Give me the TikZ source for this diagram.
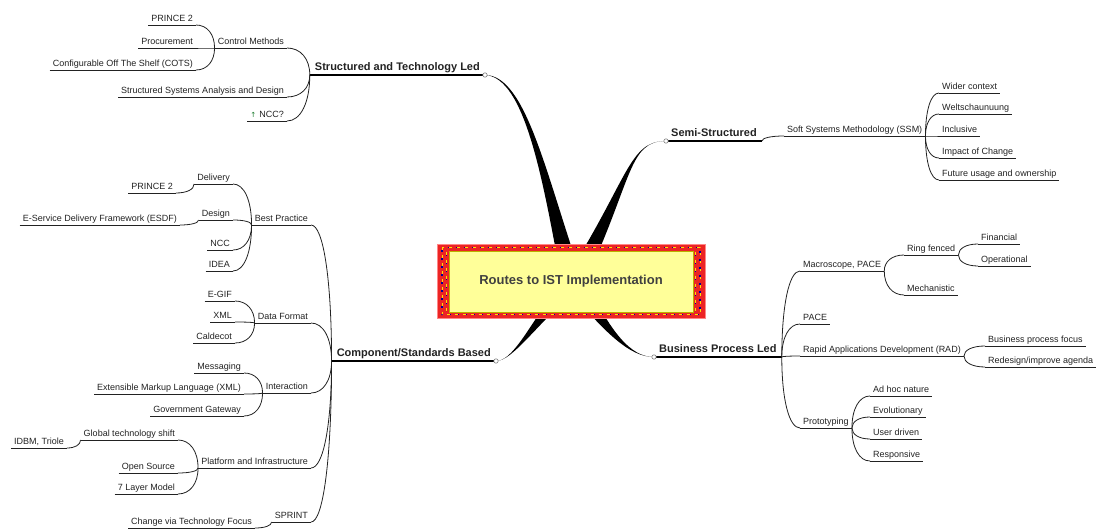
\documentclass[tikz,border=0pt]{standalone}
\usepackage{fontspec}
\setmainfont{Liberation Sans}
\newfontfamily\symfont{DejaVu Sans}
\usetikzlibrary{calc}
\definecolor{boxred}{RGB}{236,36,36}
\definecolor{boxyellow}{RGB}{255,255,153}
\definecolor{ink}{RGB}{34,34,34}
\definecolor{centerink}{RGB}{64,64,64}
\definecolor{icongreen}{RGB}{20,120,40}
\newcommand\lnk[2]{\draw[conn] (#1) .. controls ($(#1)!0.6!(#1 |- #2)$) and ($(#2)!0.6!(#1 |- #2)$) .. (#2);}
\begin{document}
\begin{tikzpicture}[x=1pt,y=-1pt,
  topic/.style={font=\fontsize{9}{10}\selectfont, text=ink, inner xsep=3pt, inner ysep=1pt, text height=7pt, text depth=2pt},
  lt/.style={topic, anchor=south east},
  rt/.style={topic, anchor=south west},
  rootlbl/.style={font=\bfseries\fontsize{11}{12}\selectfont, text=ink, inner xsep=5pt, inner ysep=1.5pt, text height=8.5pt, text depth=2.5pt},
  conn/.style={draw=ink, line width=0.8pt},
  uline/.style={draw=ink, line width=0.9pt},
  rootline/.style={draw=black, line width=1.4pt},
  knob/.style={draw=gray, fill=white, line width=0.6pt},
  taper/.style={fill=black},
]
\useasboundingbox (0,0) rectangle (1100,529);

% ---------- main topics ----------
\node[rootlbl, anchor=south east] (ST) at (485,75) {Structured and Technology Led};
\node[rootlbl, anchor=south west] (SS) at (666,141) {Semi-Structured};
\node[rootlbl, anchor=south east] (CS) at (496,361) {Component/Standards Based};
\node[rootlbl, anchor=south west] (BP) at (654,357) {Business Process Led};

% ---------- tapered main branches ----------
\fill[taper] (ST.south east) .. controls (525,77) and (543,180) .. (562,284) -- (584,284) .. controls (547,180) and (527,75) .. (ST.south east) -- cycle;
\fill[taper] (SS.south west) .. controls (628,141) and (629,180) .. (562,284) -- (584,284) .. controls (633,180) and (628,141) .. (SS.south west) -- cycle;
\fill[taper] (CS.south east) .. controls (512,361) and (527,331) .. (561,280) -- (585,280) .. controls (533,329) and (512,361) .. (CS.south east) -- cycle;
\fill[taper] (BP.south west) .. controls (630,357) and (605,334) .. (561,280) -- (585,280) .. controls (611,332) and (630,357) .. (BP.south west) -- cycle;

% ---------- central topic ----------
\fill[boxred] (437,244) rectangle (705,318);
\draw[pink!70!red, line width=0.6pt] (437,244) rectangle (705,318);
\draw[yellow!85!orange, line width=1pt, dash pattern=on 3pt off 5pt] (442,247.5) rectangle (700,314.5);
\draw[blue!60!black, line width=1.3pt, dash pattern=on 1.3pt off 6.7pt, dash phase=5pt] (442,247.5) rectangle (700,314.5);
\draw[yellow!85!orange, line width=1pt, dash pattern=on 3pt off 5pt] (446.5,252) -- (446.5,311) (695.5,252) -- (695.5,311);
\draw[blue!60!black, line width=1.3pt, dash pattern=on 1.3pt off 6.7pt, dash phase=5pt] (446.5,252) -- (446.5,311) (695.5,252) -- (695.5,311);
\node[draw=olive!60!yellow, line width=0.6pt, fill=boxyellow, minimum width=244pt, minimum height=61pt, inner sep=0pt,
      font=\bfseries\fontsize{13}{15}\selectfont, text=centerink] (root) at (571,281.5) {Routes to IST Implementation};

% ---------- Structured and Technology Led ----------
\node[lt] (CM) at (287,48) {Control Methods};
\node[lt] (SSAD) at (287,97) {Structured Systems Analysis and Design};
\node[lt] (NCCq) at (287,121) {{\symfont\fontsize{7}{8}\selectfont\color{icongreen}↑}\,\,NCC?};
\node[lt] (P2a) at (196,25) {PRINCE 2};
\node[lt] (Proc) at (196,48) {Procurement};
\node[lt] (COTS) at (196,70) {Configurable Off The Shelf (COTS)};

% ---------- Semi-Structured ----------
\node[rt] (SSM) at (784,136) {Soft Systems Methodology (SSM)};
\node[rt] (Wider) at (939,93) {Wider context};
\node[rt] (Welt) at (939,114) {Weltschaunuung};
\node[rt] (Incl) at (939,136) {Inclusive};
\node[rt] (Impact) at (939,158) {Impact of Change};
\node[rt] (Future) at (939,180) {Future usage and ownership};

% ---------- Business Process Led ----------
\node[rt] (Macro) at (800,271) {Macroscope, PACE};
\node[rt] (PACE) at (800,324) {PACE};
\node[rt] (RAD) at (800,356) {Rapid Applications Development (RAD)};
\node[rt] (Proto) at (800,428) {Prototyping};
\node[rt] (Ring) at (904,255) {Ring fenced};
\node[rt] (Mech) at (904,295) {Mechanistic};
\node[rt] (Fin) at (978,244) {Financial};
\node[rt] (Oper) at (978,266) {Operational};
\node[rt] (BPF) at (985,346) {Business process focus};
\node[rt] (Redesign) at (985,367) {Redesign/improve agenda};
\node[rt] (Adhoc) at (870,396) {Ad hoc nature};
\node[rt] (Evol) at (870,417) {Evolutionary};
\node[rt] (User) at (870,439) {User driven};
\node[rt] (Resp) at (870,461) {Responsive};

% ---------- Component/Standards Based ----------
\node[lt] (BestP) at (311,225) {Best Practice};
\node[lt] (DataF) at (311,323) {Data Format};
\node[lt] (Inter) at (311,393) {Interaction};
\node[lt] (Platf) at (311,468) {Platform and Infrastructure};
\node[lt] (Sprint) at (311,522) {SPRINT};
\node[lt] (Deliv) at (233,184) {Delivery};
\node[lt] (Design) at (233,220) {Design};
\node[lt] (NCC) at (233,250) {NCC};
\node[lt] (IDEA) at (233,271) {IDEA};
\node[lt] (P2b) at (176,193) {PRINCE 2};
\node[lt] (ESDF) at (180,225) {E-Service Delivery Framework (ESDF)};
\node[lt] (EGIF) at (235,301) {E-GIF};
\node[lt] (XML) at (235,322) {XML};
\node[lt] (Cald) at (235,343) {Caldecot};
\node[lt] (Msg) at (244,373) {Messaging};
\node[lt] (XMLlong) at (244,394) {Extensible Markup Language (XML)};
\node[lt] (GovG) at (244,416) {Government Gateway};
\node[lt] (Global) at (178,440) {Global technology shift};
\node[lt] (OpenS) at (178,473) {Open Source};
\node[lt] (Layer7) at (178,494) {7 Layer Model};
\node[lt] (IDBM) at (67,448) {IDBM, Triole};
\node[lt] (Change) at (255,528) {Change via Technology Focus};

% ---------- underlines ----------
\foreach \n in {CM,SSAD,NCCq,P2a,Proc,COTS,SSM,Wider,Welt,Incl,Impact,Future,
  Macro,PACE,RAD,Proto,Ring,Mech,Fin,Oper,BPF,Redesign,Adhoc,Evol,User,Resp,
  BestP,DataF,Inter,Platf,Sprint,Deliv,Design,NCC,IDEA,P2b,ESDF,EGIF,XML,Cald,
  Msg,XMLlong,GovG,Global,OpenS,Layer7,IDBM,Change}
  \draw[uline] (\n.south west) -- (\n.south east);
\foreach \n in {ST,SS,CS,BP}
  \draw[rootline] (\n.south west) -- (\n.south east);

% ---------- connectors ----------
\foreach \c in {CM,SSAD,NCCq} {\lnk{ST.south west}{\c.south east}}
\foreach \c in {P2a,Proc,COTS} {\lnk{CM.south west}{\c.south east}}
\lnk{SS.south east}{SSM.south west}
\foreach \c in {Wider,Welt,Incl,Impact,Future} {\lnk{SSM.south east}{\c.south west}}
\foreach \c in {Macro,PACE,RAD,Proto} {\lnk{BP.south east}{\c.south west}}
\foreach \c in {Ring,Mech} {\lnk{Macro.south east}{\c.south west}}
\foreach \c in {Fin,Oper} {\lnk{Ring.south east}{\c.south west}}
\foreach \c in {BPF,Redesign} {\lnk{RAD.south east}{\c.south west}}
\foreach \c in {Adhoc,Evol,User,Resp} {\lnk{Proto.south east}{\c.south west}}
\foreach \c in {BestP,DataF,Inter,Platf,Sprint} {\lnk{CS.south west}{\c.south east}}
\foreach \c in {Deliv,Design,NCC,IDEA} {\lnk{BestP.south west}{\c.south east}}
\lnk{Deliv.south west}{P2b.south east}
\lnk{Design.south west}{ESDF.south east}
\foreach \c in {EGIF,XML,Cald} {\lnk{DataF.south west}{\c.south east}}
\foreach \c in {Msg,XMLlong,GovG} {\lnk{Inter.south west}{\c.south east}}
\foreach \c in {Global,OpenS,Layer7} {\lnk{Platf.south west}{\c.south east}}
\lnk{Global.south west}{IDBM.south east}
\lnk{Sprint.south west}{Change.south east}

% ---------- knobs ----------
\draw[knob] (ST.south east) circle (2.2);
\draw[knob] (SS.south west) circle (2.2);
\draw[knob] (CS.south east) circle (2.2);
\draw[knob] (BP.south west) circle (2.2);
\end{tikzpicture}
\end{document}
